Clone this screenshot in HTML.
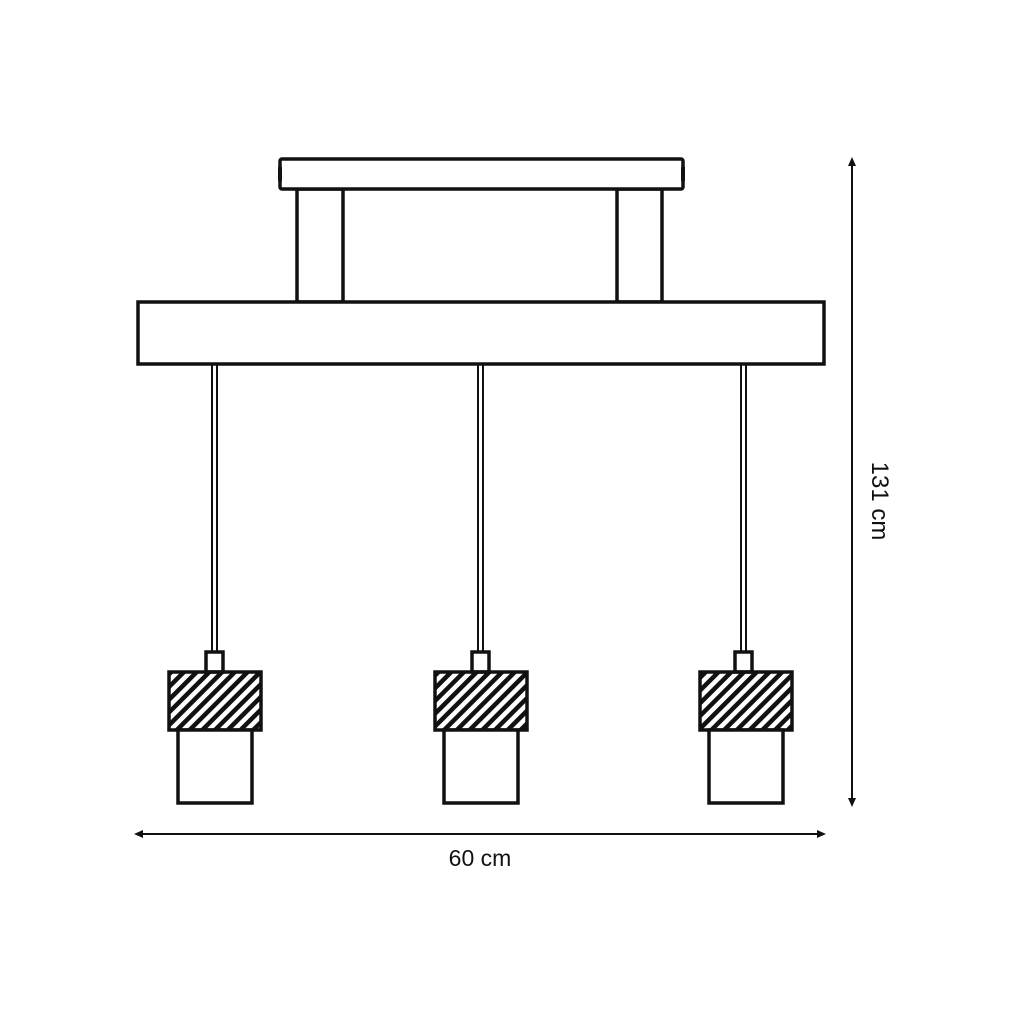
<!DOCTYPE html>
<html><head><meta charset="utf-8"><style>
html,body{margin:0;padding:0;background:#fff;}
svg{display:block;}
</style></head><body>
<svg width="1024" height="1024" viewBox="0 0 1024 1024" xmlns="http://www.w3.org/2000/svg">
<defs>
<pattern id="h" patternUnits="userSpaceOnUse" width="9" height="9" patternTransform="rotate(45)">
<rect x="0" y="0" width="4.5" height="9" fill="#111"/>
</pattern>
</defs>
<rect width="1024" height="1024" fill="#fff"/>
<g stroke="#111" stroke-width="3.5" fill="#fff">
<rect x="297" y="189" width="46" height="113"/>
<rect x="617" y="189" width="45" height="113"/>
<rect x="280" y="159" width="403" height="30" rx="2"/>
<rect x="138" y="302" width="686" height="62"/>
</g>
<g fill="#111">
<rect x="278" y="166" width="4" height="16" rx="2"/>
<rect x="681" y="166" width="4" height="16" rx="2"/>
</g>
<g stroke="#111" fill="none">
<line x1="212" y1="365" x2="212" y2="652" stroke-width="2"/>
<line x1="217" y1="365" x2="217" y2="652" stroke-width="2"/>
<line x1="478" y1="365" x2="478" y2="652" stroke-width="2"/>
<line x1="483" y1="365" x2="483" y2="652" stroke-width="2"/>
<line x1="741" y1="365" x2="741" y2="652" stroke-width="2"/>
<line x1="746" y1="365" x2="746" y2="652" stroke-width="2"/>
</g>
<g stroke="#111" stroke-width="3.5">
<rect x="206" y="652" width="17" height="20" fill="#fff"/>
<rect x="472" y="652" width="17" height="20" fill="#fff"/>
<rect x="735" y="652" width="17" height="20" fill="#fff"/>
<rect x="169" y="672" width="92" height="58" fill="url(#h)"/>
<rect x="435" y="672" width="92" height="58" fill="url(#h)"/>
<rect x="700" y="672" width="92" height="58" fill="url(#h)"/>
<rect x="178" y="730" width="74" height="73" fill="#fff"/>
<rect x="444" y="730" width="74" height="73" fill="#fff"/>
<rect x="709" y="730" width="74" height="73" fill="#fff"/>
</g>
<g stroke="#111" stroke-width="2">
<line x1="852" y1="160" x2="852" y2="805"/>
<line x1="137" y1="834" x2="824" y2="834"/>
</g>
<g fill="#111">
<polygon points="852,157 848,166 856,166"/>
<polygon points="852,807 848,798 856,798"/>
<polygon points="134,834 143,830 143,838"/>
<polygon points="826,834 817,830 817,838"/>
</g>
<text x="480" y="866" font-family="'Liberation Sans',sans-serif" font-size="23" text-anchor="middle" fill="#111">60 cm</text>
<text transform="translate(872,501) rotate(90)" font-family="'Liberation Sans',sans-serif" font-size="24" text-anchor="middle" fill="#111">131 cm</text>
</svg>
</body></html>
